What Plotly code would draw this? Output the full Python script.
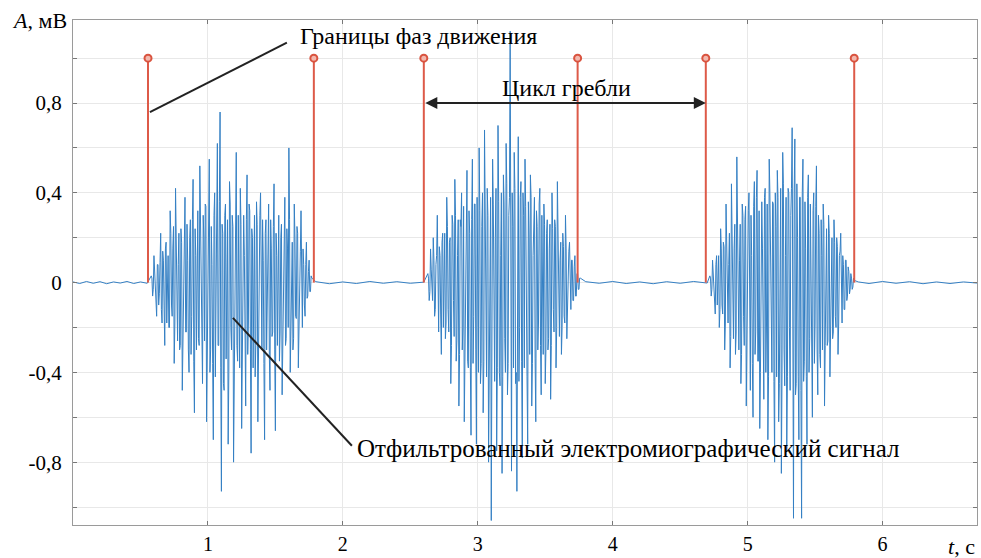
import plotly.graph_objects as go

# ---- data ----
dt = 0.01
burst1_start = 0.58
burst1 = [0.03,-0.06,0.12,0.04,-0.15,0.08,-0.05,0.22,-0.18,0.10,
          -0.28,0.18,0.05,-0.20,0.32,-0.10,0.15,-0.36,0.42,-0.12,
          0.08,-0.30,0.24,-0.48,0.15,0.38,-0.22,0.10,-0.40,0.28,
          -0.15,0.46,-0.58,0.12,0.30,-0.25,0.52,-0.10,-0.45,0.20,
          0.35,-0.62,0.18,0.55,-0.30,0.08,-0.70,0.40,-0.15,0.62,
          -0.28,0.76,-0.93,0.22,-0.48,0.35,0.10,-0.72,0.45,-0.20,
          0.30,-0.80,0.15,0.58,-0.35,-0.10,0.42,-0.65,0.25,0.12,
          -0.55,0.48,-0.18,0.32,-0.76,0.20,0.05,-0.42,0.36,-0.62,
          0.18,0.40,-0.30,0.10,-0.70,0.28,-0.12,0.35,-0.48,0.15,
          -0.22,0.44,-0.66,0.12,0.30,-0.35,0.20,-0.50,0.08,0.38,
          -0.25,0.15,0.60,-0.40,0.10,-0.30,0.35,-0.15,0.25,-0.38,
          0.12,0.32,-0.20,0.08,-0.15,0.18,-0.06,0.10,-0.04,0.02]
core1 = [0.02,-0.03,0.05,-0.06,0.08,-0.10,0.09,-0.12,0.14,-0.10,
         0.15,-0.18,0.12,-0.20,0.22,-0.15,0.25,-0.18,0.20,-0.26,
         0.22,-0.28,0.18,-0.25,0.30,-0.22,0.26,-0.30,0.20,-0.32,
         0.28,-0.35,0.24,-0.30,0.32,-0.28,0.25,-0.38,0.30,-0.26,
         0.34,-0.30,0.28,-0.40,0.25,-0.36,0.30,-0.42,0.32,-0.28,
         0.36,-0.38,0.26,-0.45,0.30,-0.34,0.28,-0.40,0.35,-0.30,
         0.25,-0.42,0.32,-0.28,0.30,-0.38,0.26,-0.35,0.30,-0.40,
         0.28,-0.32,0.35,-0.30,0.24,-0.38,0.30,-0.28,0.26,-0.34,
         0.30,-0.25,0.28,-0.36,0.22,-0.30,0.26,-0.32,0.28,-0.24,
         0.25,-0.30,0.22,-0.28,0.30,-0.22,0.26,-0.25,0.20,-0.28,
         0.24,-0.20,0.28,-0.22,0.18,-0.25,0.20,-0.16,0.22,-0.15,
         0.14,-0.12,0.15,-0.10,0.08,-0.07,0.05,-0.04,0.03,-0.01]
burst2_start = 2.63
burst2 = [0.04,-0.08,0.15,-0.04,0.20,-0.15,0.08,0.30,-0.22,0.12,
          -0.32,0.22,0.05,-0.25,0.38,-0.12,0.18,-0.45,0.30,-0.08,
          0.46,-0.35,0.12,-0.55,0.28,0.40,-0.20,-0.62,0.15,0.50,
          -0.38,0.22,-0.68,0.55,-0.15,0.35,-0.72,0.10,0.60,-0.45,
          0.25,-0.58,0.68,-0.20,0.42,-0.80,0.15,-1.06,0.55,-0.30,
          0.20,-0.75,0.70,-0.40,0.12,-0.85,0.48,-0.25,0.62,-0.50,
          0.30,1.12,-0.84,0.25,0.58,-0.45,-0.93,0.65,-0.20,0.45,
          -0.78,0.30,0.55,-0.35,-0.72,0.20,0.48,-0.55,0.12,0.38,
          -0.62,0.25,-0.18,0.42,-0.50,0.10,0.35,-0.45,0.22,-0.30,
          0.15,-0.52,0.40,-0.12,0.28,-0.38,0.45,-0.20,0.10,-0.32,
          0.22,-0.15,0.30,-0.25,0.08,0.18,-0.12,0.10,-0.08,0.12,
          -0.06,0.04,-0.03,0.02]
core2 = [0.02,-0.04,0.06,-0.08,0.10,-0.12,0.12,-0.15,0.16,-0.14,
         0.18,-0.20,0.22,-0.18,0.25,-0.22,0.20,-0.28,0.26,-0.24,
         0.30,-0.26,0.28,-0.32,0.25,-0.30,0.34,-0.28,0.30,-0.35,
         0.32,-0.38,0.28,-0.36,0.35,-0.30,0.38,-0.40,0.32,-0.36,
         0.40,-0.35,0.36,-0.42,0.30,-0.45,0.38,-0.40,0.35,-0.44,
         0.42,-0.38,0.36,-0.46,0.40,-0.42,0.35,-0.40,0.44,-0.36,
         0.38,-0.45,0.40,-0.38,0.42,-0.40,0.36,-0.44,0.38,-0.35,
         0.40,-0.38,0.34,-0.42,0.36,-0.32,0.38,-0.36,0.30,-0.34,
         0.32,-0.30,0.35,-0.28,0.30,-0.32,0.26,-0.30,0.28,-0.25,
         0.26,-0.28,0.24,-0.22,0.25,-0.20,0.22,-0.24,0.18,-0.20,
         0.16,-0.18,0.15,-0.12,0.14,-0.10,0.10,-0.08,0.07,-0.06,
         0.04,-0.03,0.02,-0.01]
burst3_start = 4.72
burst3 = [0.03,-0.06,0.10,-0.02,-0.14,0.12,0.05,-0.20,0.24,-0.10,
          0.18,-0.30,0.35,-0.12,0.08,-0.38,0.44,-0.20,0.15,-0.32,
          0.56,-0.25,0.10,-0.45,0.35,-0.15,0.28,-0.55,0.20,0.40,
          -0.48,0.12,-0.60,0.45,-0.22,0.50,-0.35,-0.65,0.30,0.15,
          -0.52,0.42,-0.18,-0.70,0.55,0.10,-0.40,0.35,-0.80,0.25,
          0.50,-0.62,0.18,-0.85,0.58,-0.30,0.12,-0.75,0.42,-0.20,
          0.30,0.69,-1.05,0.64,-0.45,0.20,-0.70,0.38,-1.05,0.55,
          -0.35,0.15,-0.72,0.48,-0.25,0.10,-0.60,0.40,-0.18,0.52,
          -0.50,0.22,-0.38,0.12,0.35,-0.55,0.18,-0.28,0.30,-0.42,
          0.10,-0.25,0.28,-0.15,0.20,-0.32,0.12,0.22,-0.18,0.08,
          -0.12,0.10,-0.06,0.05,-0.03,0.02,-0.02,0.01]
core3 = [0.02,-0.03,0.05,-0.07,0.08,-0.10,0.12,-0.12,0.15,-0.14,
         0.16,-0.18,0.20,-0.18,0.22,-0.24,0.20,-0.25,0.26,-0.22,
         0.28,-0.30,0.26,-0.32,0.30,-0.28,0.34,-0.30,0.32,-0.35,
         0.30,-0.36,0.34,-0.32,0.38,-0.35,0.32,-0.40,0.36,-0.34,
         0.38,-0.40,0.35,-0.42,0.40,-0.38,0.36,-0.44,0.40,-0.42,
         0.38,-0.45,0.42,-0.40,0.44,-0.46,0.38,-0.42,0.40,-0.48,
         0.42,-0.45,0.40,-0.50,0.44,-0.42,0.38,-0.48,0.40,-0.44,
         0.36,-0.42,0.38,-0.40,0.35,-0.38,0.32,-0.36,0.34,-0.30,
         0.30,-0.32,0.28,-0.30,0.26,-0.28,0.24,-0.26,0.22,-0.24,
         0.20,-0.22,0.18,-0.20,0.16,-0.18,0.14,-0.15,0.12,-0.12,
         0.10,-0.08,0.07,-0.05,0.04,-0.03,0.02,-0.01]
base_t = [0.0,0.05,0.1,0.15,0.2,0.25,0.3,0.35,0.4,0.45,0.5,0.55,
          1.8,1.9,2.0,2.1,2.2,2.3,2.4,2.5,2.6,
          3.8,3.9,4.0,4.1,4.2,4.3,4.4,4.5,4.6,4.7,
          5.82,5.9,6.0,6.1,6.2,6.3,6.4,6.5,6.6,6.7]
base_v = [0.003,-0.004,0.005,-0.003,0.004,-0.005,0.003,-0.002,0.005,-0.004,0.003,-0.003,
          0.004,-0.005,0.003,-0.004,0.005,-0.003,0.004,-0.003,0.002,
          0.004,-0.003,0.005,-0.004,0.003,-0.005,0.004,-0.003,0.005,-0.002,
          0.003,-0.004,0.005,-0.003,0.004,-0.005,0.003,-0.004,0.003,-0.002]
stem_t = [0.556, 1.785, 2.60, 3.74, 4.69, 5.79]
stem_v = [1.0, 1.0, 1.0, 1.0, 1.0, 1.0]

x_ticks = [1, 2, 3, 4, 5, 6]
y_ticks = [-1.0, -0.8, -0.6, -0.4, -0.2, 0.0, 0.2, 0.4, 0.6, 0.8, 1.0]
y_labels = ["", "-0,8", "", "-0,4", "", "0", "", "0,4", "", "0,8", ""]

# ---- build signal ----
pts = list(zip(base_t, base_v))
for start, vals, core in [(burst1_start, burst1, core1), (burst2_start, burst2, core2),
                          (burst3_start, burst3, core3)]:
    pts += [(round(start + i * dt, 4), v) for i, v in enumerate(vals)]
    pts += [(round(start + i * dt + dt / 2, 4), v) for i, v in enumerate(core[:len(vals) - 1])]
pts.sort()
sig_t = [p[0] for p in pts]
sig_v = [p[1] for p in pts]

stem_x, stem_y = [], []
for t, v in zip(stem_t, stem_v):
    stem_x += [t, t, None]
    stem_y += [0, v, None]

SERIF = "Liberation Serif"
fig = go.Figure()
fig.add_trace(go.Scatter(x=sig_t, y=sig_v, mode="lines",
                         line=dict(color="#3580c4", width=1), hoverinfo="skip"))
fig.add_trace(go.Scatter(x=stem_x, y=stem_y, mode="lines",
                         line=dict(color="#dd5a48", width=2), hoverinfo="skip"))
fig.add_trace(go.Scatter(x=stem_t, y=stem_v, mode="markers",
                         marker=dict(symbol="circle", size=7, color="#f3b8ae",
                                     line=dict(color="#d9533f", width=2))))

# pointer lines
fig.add_shape(type="line", x0=0.57, y0=0.76, x1=1.585, y1=1.069,
              line=dict(color="#222", width=2))
fig.add_shape(type="line", x0=1.185, y0=-0.157, x1=2.067, y1=-0.727,
              line=dict(color="#222", width=2))

fig.add_annotation(x=1.667, y=1.10, text="Границы фаз движения", showarrow=False,
                   xanchor="left", yanchor="middle", font=dict(family=SERIF, size=24, color="black"))
fig.add_annotation(x=3.66, y=0.867, text="Цикл гребли", showarrow=False,
                   xanchor="center", yanchor="middle", font=dict(family=SERIF, size=24, color="black"))
fig.add_annotation(x=2.09, y=-0.737, text="Отфильтрованный электромиографический сигнал",
                   showarrow=False, xanchor="left", yanchor="middle",
                   font=dict(family=SERIF, size=25, color="black"))
# double arrow
fig.add_annotation(x=4.69, y=0.80, ax=2.60, ay=0.80, axref="x", ayref="y", xref="x", yref="y",
                   text="", showarrow=True, arrowhead=2, arrowside="end+start",
                   arrowsize=1.2, arrowwidth=2, arrowcolor="#222")
# axis labels
fig.add_annotation(xref="paper", yref="paper", x=0, y=1, xanchor="right", yanchor="middle",
                   xshift=-4, text="<i>A</i>, мВ", showarrow=False,
                   font=dict(family=SERIF, size=22, color="black"))
fig.add_annotation(xref="paper", yref="paper", x=1, y=0, xanchor="right", yanchor="middle",
                   yshift=-21, text="<i>t</i>, с", showarrow=False,
                   font=dict(family=SERIF, size=22, color="black"))

fig.update_layout(
    width=981, height=558, showlegend=False,
    margin=dict(l=73, r=4, t=20, b=33),
    plot_bgcolor="white", paper_bgcolor="white",
    font=dict(family=SERIF, size=20, color="black"),
)
fig.update_xaxes(range=[0, 6.7], tickvals=x_ticks, ticktext=[str(v) for v in x_ticks],
                 showgrid=True, gridcolor="#e8e8e8", zeroline=False, automargin=False,
                 showline=True, linecolor="#9a9a9a", linewidth=1, mirror="ticks",
                 ticks="inside", ticklen=4, tickcolor="#777", ticklabelstandoff=1,
                 tickfont=dict(family=SERIF, size=20, color="black"))
fig.update_yaxes(range=[-1.08, 1.17], tickvals=y_ticks, ticktext=y_labels,
                 showgrid=True, gridcolor="#e8e8e8", zeroline=False, automargin=False,
                 showline=True, linecolor="#9a9a9a", linewidth=1, mirror="ticks",
                 ticks="inside", ticklen=4, tickcolor="#777", ticklabelstandoff=6,
                 tickfont=dict(family=SERIF, size=21, color="black"))

fig.write_html("out.html", config={"displayModeBar": False},
               post_script="document.body.style.margin='0';document.body.style.overflow='hidden';")
